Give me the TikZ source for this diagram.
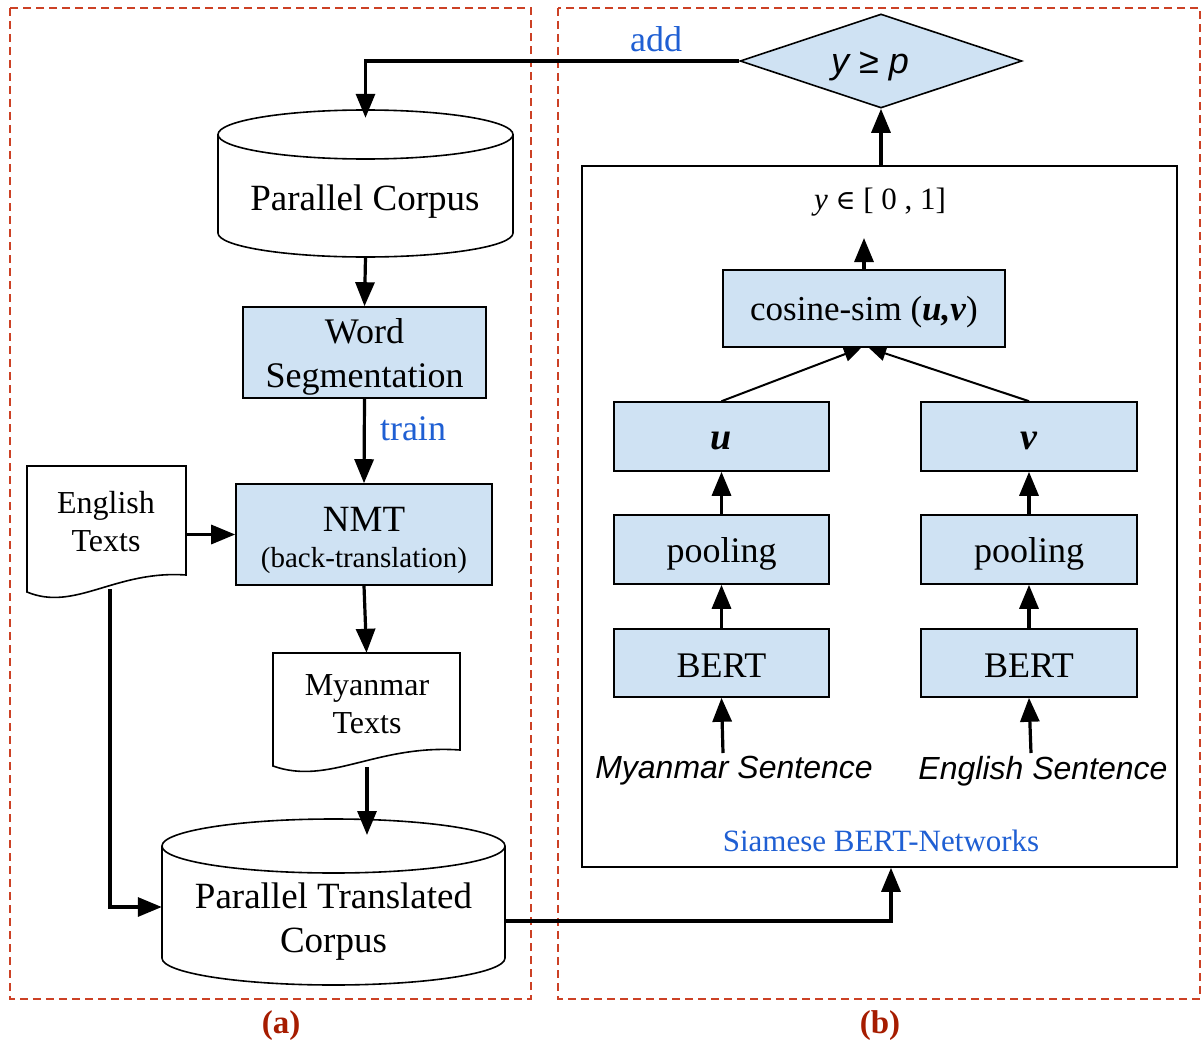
\documentclass[tikz,border=0pt]{standalone}
\usepackage{fontspec}
\setmainfont{Liberation Serif}
\newfontfamily\arialfont{Liberation Sans}
\newfontfamily\symbfont{DejaVu Serif}
\usetikzlibrary{arrows.meta,shapes.geometric}
\definecolor{boxfill}{HTML}{CFE2F3}
\definecolor{bluetxt}{HTML}{1F5FD3}
\definecolor{dashred}{HTML}{CC4125}
\definecolor{labred}{HTML}{A61C00}
\begin{document}
\begin{tikzpicture}[x=1pt,y=-1pt,
  bbox/.style={draw=black, line width=1.6pt, fill=boxfill, inner sep=0pt},
  btxt/.style={yshift=-4pt, align=center, font=\fontsize{36}{44}\selectfont},
  shapeline/.style={draw=black, line width=1.6pt, fill=white},
  conn/.style={line width=3.2pt, -{Triangle[length=24pt,width=19pt]}},
  thinconn/.style={line width=2pt, -{Triangle[length=17pt,width=15pt]}},
  dashframe/.style={draw=dashred, line width=1.6pt, dash pattern=on 8pt off 5pt},
  bluelab/.style={text=bluetxt, font=\fontsize{36}{42}\selectfont},
  bigtxt/.style={align=center, font=\fontsize{37}{44}\selectfont},
  doctxt/.style={align=center, font=\fontsize{32}{38}\selectfont},
  senttxt/.style={font=\arialfont\itshape\fontsize{32}{38}\selectfont},
  sublab/.style={text=labred, font=\bfseries\fontsize{33}{38}\selectfont}
]
\useasboundingbox (0,0) rectangle (1202,1046);

% dashed frames
\draw[dashframe] (10,8) rectangle (531,999);
\draw[dashframe] (558,8) rectangle (1200,999);

% decision diamond
\node[diamond, draw=black, line width=1.6pt, fill=boxfill, minimum width=282pt, minimum height=94pt, inner sep=0pt] (dia) at (881,61) {};
\node[font=\arialfont\itshape\fontsize{36}{40}\selectfont] (diat) at (870,66) {y ≥ p};
\node[bluelab] (addl) at (656,39) {add};

% Parallel Corpus cylinder
\path[shapeline] (218,134.5) -- (218,233) arc[start angle=180,end angle=360,x radius=147.5pt,y radius=24pt] -- (513,134.5);
\draw[shapeline] (365.5,134.5) ellipse[x radius=147.5pt, y radius=24.5pt];
\node[minimum width=295pt, minimum height=147pt, inner sep=0pt] (pc) at (365.5,183.5) {};
\node[bigtxt] (pct) at (365,202) {Parallel Corpus};

% Word Segmentation
\node[bbox, minimum width=243pt, minimum height=91pt] (ws) at (364.5,352.5) {};
\node[btxt] (wst) at (ws) {Word\\Segmentation};

% NMT
\node[bbox, minimum width=256pt, minimum height=101pt] (nmt) at (364,534.5) {};
\node[font=\fontsize{37}{40}\selectfont] (nmtt) at (364,519) {NMT};
\node[font=\fontsize{29}{34}\selectfont] (nmtb) at (364,561) {(back-translation)};

% English Texts document
\path[shapeline] (27,466) -- (186,466) -- (186,575) .. controls (115,570) and (75,612) .. (27,592) -- cycle;
\node[minimum width=159pt, minimum height=128pt, inner sep=0pt] (eng) at (106.5,530) {};
\node[doctxt] (engt) at (106,522) {English\\Texts};
\coordinate (engb) at (110,589);

% Myanmar Texts document
\path[shapeline] (273,653) -- (460,653) -- (460,750) .. controls (376,744) and (329,786) .. (273,766) -- cycle;
\node[minimum width=187pt, minimum height=113pt, inner sep=0pt] (mt) at (366.5,709.5) {};
\node[doctxt] (mtt) at (367,704) {Myanmar\\Texts};
\coordinate (mtb) at (367,767);

% Parallel Translated Corpus cylinder
\path[shapeline] (162,846) -- (162,958) arc[start angle=180,end angle=360,x radius=171.5pt,y radius=27pt] -- (505,846);
\draw[shapeline] (333.5,846) ellipse[x radius=171.5pt, y radius=27pt];
\node[minimum width=343pt, minimum height=166pt, inner sep=0pt] (ptc) at (333.5,902) {};
\node[bigtxt] (ptct) at (333.5,922) {Parallel Translated\\Corpus};
\coordinate (ptcin) at (367,835);
\coordinate (ptcr) at (505,921);

% Siamese box
\node[draw=black, line width=1.6pt, minimum width=595pt, minimum height=701pt, inner sep=0pt] (sb) at (879.5,516.5) {};
\node[font=\fontsize{31}{36}\selectfont] (yr) at (880,202) {\textit{y} {\symbfont\fontsize{27}{30}\selectfont ∈} [ 0 , 1]};
\coordinate (ytip) at (864,238);
\node[bbox, minimum width=282pt, minimum height=77pt] (cos) at (864,308.5) {};
\node[btxt, font=\fontsize{35}{40}\selectfont] (cost) at (cos) {cosine-sim (\textbf{\textit{u,v}})};
\node[bbox, minimum width=215pt, minimum height=69pt] (u) at (721.5,436.5) {};
\node[btxt, font=\fontsize{38}{40}\selectfont] (ut) at (u) {\textbf{\textit{u}}};
\node[bbox, minimum width=216pt, minimum height=69pt] (v) at (1029,436.5) {};
\node[btxt, font=\fontsize{38}{40}\selectfont] (vt) at (v) {\textbf{\textit{v}}};
\node[bbox, minimum width=215pt, minimum height=69pt] (pu) at (721.5,549.5) {};
\node[btxt] (put) at (pu) {pooling};
\node[bbox, minimum width=216pt, minimum height=69pt] (pv) at (1029,549.5) {};
\node[btxt] (pvt) at (pv) {pooling};
\node[bbox, minimum width=215pt, minimum height=68pt] (bu) at (721.5,663) {};
\node[btxt, yshift=1pt] (but) at (bu) {BERT};
\node[bbox, minimum width=216pt, minimum height=68pt] (bv) at (1029,663) {};
\node[btxt, yshift=1pt] (bvt) at (bv) {BERT};
\node[senttxt] (ms) at (734,771) {Myanmar Sentence};
\node[senttxt] (es) at (1043,771) {English Sentence};
\coordinate (msb) at (723,753);
\coordinate (esb) at (1031,753);
\node[text=bluetxt, font=\fontsize{31}{36}\selectfont] (sbl) at (881,841) {Siamese BERT-Networks};
\coordinate (cl) at (861,348);
\coordinate (cr) at (869,348);

% sub-labels
\node[sublab] (la) at (281,1026) {(a)};
\node[sublab] (lb) at (880,1026) {(b)};

% connectors left
\draw[conn] (dia.west) -| ([yshift=-8pt]pc.north);
\draw[conn] (pc.south) -- (ws.north);
\draw[conn] (ws.south) -- (nmt.north);
\node[bluelab] (trainl) at (413,429) {train};
\draw[conn] (eng.east |- nmt.west) -- (nmt.west);
\draw[conn] (engb) |- ([yshift=-5pt]ptc.west);
\draw[conn] (nmt.south) -- (mt.north);
\draw[conn] (mtb) -- (ptcin);
\draw[conn] (ptcr) -| ([xshift=11.5pt]sb.south);

% connectors right
\draw[conn] (sb.north -| dia.south) -- (dia.south);
\draw[conn] (cos.north) -- (ytip);
\draw[thinconn] (u.north) -- (cl);
\draw[thinconn] (v.north) -- (cr);
\draw[conn] (pu.north) -- (u.south);
\draw[conn] (pv.north) -- (v.south);
\draw[conn] (bu.north) -- (pu.south);
\draw[conn] (bv.north) -- (pv.south);
\draw[conn] (msb) -- (bu.south);
\draw[conn] (esb) -- (bv.south);
\end{tikzpicture}
\end{document}
